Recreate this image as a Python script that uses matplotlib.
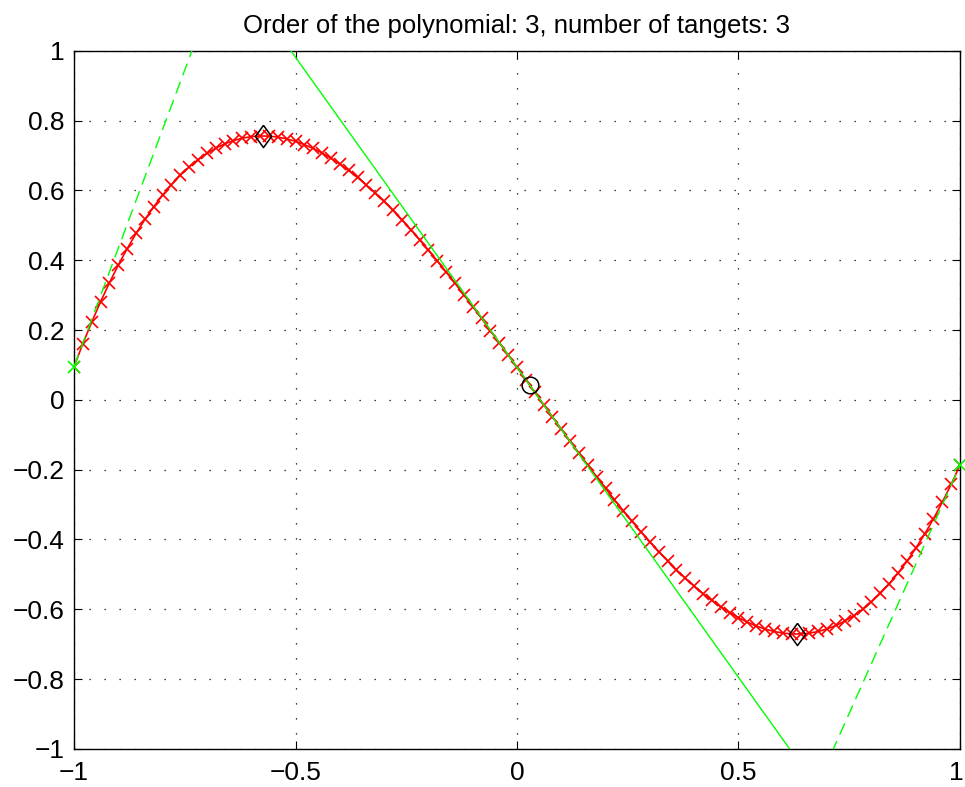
import numpy as np
import matplotlib
matplotlib.use("Agg")
import matplotlib.pyplot as plt
from matplotlib.transforms import ScaledTranslation

# cubic (highest power first)
coeffs = [1.631, -0.1394, -1.772, 0.0931]
x_samples = np.linspace(-1, 1, 101)
end_points = [-1.0, 1.0]
x_ticks = [-1, -0.5, 0, 0.5, 1]
y_ticks = [-1, -0.8, -0.6, -0.4, -0.2, 0, 0.2, 0.4, 0.6, 0.8, 1]
x_tick_labels = ["\u22121", "\u22120.5", "0", "0.5", "1"]
y_tick_labels = ["\u22121", "\u22120.8", "\u22120.6", "\u22120.4", "\u22120.2", "0",
                 "0.2", "0.4", "0.6", "0.8", "1"]
title = "Order of the polynomial: 3, number of tangets: 3"

plt.rcParams['font.family'] = ['Liberation Sans', 'DejaVu Sans']

fig = plt.figure(figsize=(9.65, 7.87), dpi=100)
ax = fig.add_axes([0.0767, 0.0483, 0.9181, 0.8873])

d1 = np.polyder(coeffs)
d2 = np.polyder(coeffs, 2)
extrema = np.sort(np.roots(d1).real)
inflection = np.roots(d2).real[0]

# the polynomial itself
ax.plot(x_samples, np.polyval(coeffs, x_samples), color='red', lw=1.2,
        marker='x', markersize=8, markeredgewidth=1.2, zorder=3)

# tangents: dashed at the ends, solid at the inflection point
for t, ls in [(end_points[0], '--'), (inflection, '-'), (end_points[1], '--')]:
    yt = np.polyval(coeffs, t)
    k = np.polyval(d1, t)
    line, = ax.plot(x_samples, yt + k * (x_samples - t), color=(0, 1, 0), lw=1.0,
                    ls=ls, zorder=4)
    if ls == '--':
        line.set_dashes((9, 5))

ax.plot(end_points, np.polyval(coeffs, end_points), ls='none', marker='x',
        color=(0, 1, 0), markersize=8, markeredgewidth=1.2, zorder=5, clip_on=False)

diamond = [(0, 1), (0.73, 0), (0, -1), (-0.73, 0), (0, 1)]
ax.plot(extrema, np.polyval(coeffs, extrema), ls='none', marker=diamond,
        markersize=16, markerfacecolor='none', markeredgecolor='black',
        markeredgewidth=1.1, zorder=6)
ax.plot([inflection], [np.polyval(coeffs, inflection)], ls='none', marker='o',
        markersize=12, markerfacecolor='none', markeredgecolor='black',
        markeredgewidth=1.1, zorder=6)

ax.set_xlim(-1, 1)
ax.set_ylim(-1, 1)
ax.set_xticks(x_ticks)
ax.set_xticklabels(x_tick_labels)
ax.set_yticks(y_ticks)
ax.set_yticklabels(y_tick_labels)
ax.tick_params(direction='in', length=6, width=0.8, labelsize=19, pad=7,
               top=True, right=True)
ax.tick_params(axis='x', pad=9)
ax.grid(True, color='black', linestyle=(0, (1, 11)), linewidth=0.9)
for sp in ax.spines.values():
    sp.set_linewidth(1.0)

# keep the last x label inside the canvas
last = ax.get_xticklabels()[-1]
last.set_transform(last.get_transform() + ScaledTranslation(-0.035, 0, fig.dpi_scale_trans))

ax.set_title(title, fontsize=18.5, pad=13)

fig.savefig("out.png", dpi=100)
